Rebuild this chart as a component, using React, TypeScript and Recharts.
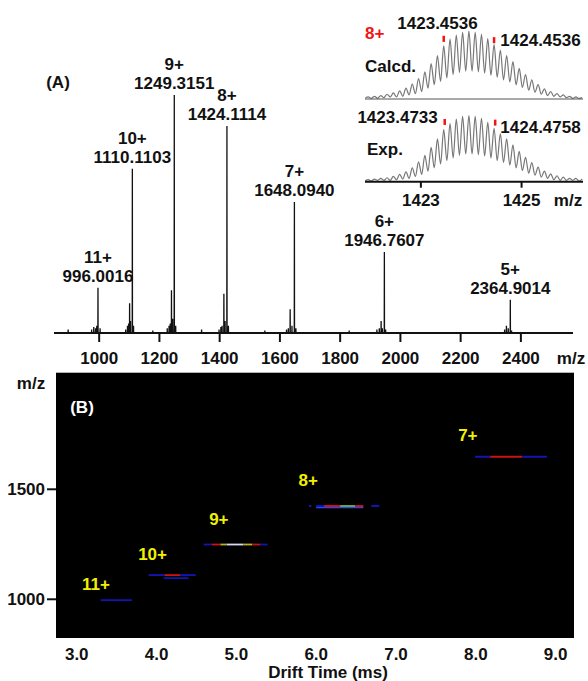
import {
  ComposedChart,
  LineChart,
  Line,
  XAxis,
  YAxis,
  LabelList,
  ReferenceLine,
  Scatter,
  CartesianGrid,
} from 'recharts'

const FONT = "'Liberation Sans', Arial, Helvetica, sans-serif"
const INK = '#111'

// (A) ESI-MS: labelled charge-state peaks
const chargeStates = ['11+', '10+', '9+', '8+', '7+', '6+', '5+']
const mainMz = [996.0016, 1110.1103, 1249.3151, 1424.1114, 1648.094, 1946.7607, 2364.9014]
const mainInt = [19, 69, 100, 87, 55, 34, 14]

// small satellite / noise sticks around the envelopes
const minorMz = [
  897, 975, 982, 988, 992, 1003, 1088, 1094, 1098, 1101, 1104, 1114, 1178, 1226, 1232, 1236,
  1240, 1244, 1254, 1340, 1398, 1404, 1408, 1414, 1418, 1429, 1550, 1622, 1628, 1634, 1640,
  1653, 1830, 1922, 1930, 1936, 1940, 1951, 2346, 2352, 2358, 2369,
]
const minorInt = [
  1.5, 1.5, 2.5, 2, 3, 2, 1.5, 3, 4, 12.5, 5, 3, 1, 2, 3, 4, 18, 6, 3, 1.5, 1.5, 2.5, 3, 16.5,
  5, 3, 1, 1.5, 2, 10, 3, 2, 1, 1.5, 2, 5, 2, 1.5, 1.5, 3, 2, 1,
]
const msTicks = [1000, 1200, 1400, 1600, 1800, 2000, 2200, 2400]

// inset: 8+ isotope pattern (peak tops and the valley just before each peak)
const isoMz = [
  1421.9536, 1422.0786, 1422.2036, 1422.3286, 1422.4536, 1422.5786, 1422.7036, 1422.8286,
  1422.9536, 1423.0786, 1423.2036, 1423.3286, 1423.4536, 1423.5786, 1423.7036, 1423.8286,
  1423.9536, 1424.0786, 1424.2036, 1424.3286, 1424.4536, 1424.5786, 1424.7036, 1424.8286,
  1424.9536, 1425.0786, 1425.2036, 1425.3286, 1425.4536, 1425.5786, 1425.7036, 1425.8286,
  1425.9536, 1426.0786, 1426.2036,
]
const calcPeaks = [
  3, 4, 5, 7, 9, 12, 16, 22, 30, 40, 52, 64, 78, 88, 94, 98, 100, 98, 95, 89, 80, 72, 64, 55,
  45, 36, 28, 21, 15, 11, 8, 6, 4, 3, 2,
]
const calcValleys = [
  1, 1, 1, 2, 3, 3, 4, 6, 8, 11, 16, 21, 26, 31, 36, 39, 41, 41, 40, 38, 35, 32, 28, 25, 21,
  17, 13, 10, 7, 5, 4, 3, 2, 1, 1,
]
const expPeaks = [
  3, 4, 5, 6, 8, 11, 15, 21, 30, 40, 52, 65, 79, 88, 95, 99, 100, 99, 96, 90, 81, 73, 65, 56,
  46, 37, 29, 22, 16, 12, 9, 7, 5, 5, 4,
]
const expValleys = [
  1, 1, 2, 2, 2, 3, 4, 5, 8, 11, 16, 21, 27, 32, 36, 40, 42, 42, 41, 39, 36, 32, 29, 25, 21,
  17, 13, 10, 7, 5, 3, 2, 2, 2, 1,
]

// (B) drift time vs m/z map: coloured segments
const BLUE = '#1414b4'
const RED = '#c81414'
const YEL = '#b4b428'
const PALE = '#d4dcf4'
const GRN = '#6ea03c'
const LBLUE = '#2848ff'
const segStart = [3.3, 3.9, 4.1, 4.3, 4.09, 4.59, 4.69, 4.8, 4.88, 5.09, 5.2, 5.3, 5.91, 6.0, 6.0, 6.1, 6.3, 6.49, 6.69, 7.99, 8.18, 8.58]
const segEnd = [3.69, 4.1, 4.3, 4.49, 4.4, 4.69, 4.8, 4.88, 5.09, 5.2, 5.3, 5.39, 5.94, 6.59, 6.1, 6.3, 6.49, 6.59, 6.79, 8.18, 8.58, 8.89]
const segMz = [996, 1110, 1110, 1110, 1096, 1249, 1249, 1249, 1249, 1249, 1249, 1249, 1424, 1418, 1424, 1424, 1424, 1424, 1424, 1648, 1648, 1648]
const segColor = [BLUE, BLUE, RED, BLUE, BLUE, BLUE, RED, YEL, PALE, YEL, RED, BLUE, BLUE, LBLUE, BLUE, RED, GRN, RED, BLUE, BLUE, RED, BLUE]

const mapLabels = ['11+', '10+', '9+', '8+', '7+']
const mapLabelT = [3.24, 3.95, 4.78, 5.9, 7.9]
const mapLabelMz = [1070, 1206, 1365, 1544, 1747]
const driftTicks = [3, 4, 5, 6, 7, 8, 9]

type Stick = { mz: number; int: number; charge?: string; label?: string }

const sticks: Stick[] = [
  ...mainMz.map((mz, i) => ({ mz, int: mainInt[i], charge: chargeStates[i], label: mz.toFixed(4) })),
  ...minorMz.map((mz, i) => ({ mz, int: minorInt[i] })),
].sort((a, b) => a.mz - b.mz)

// each stick is drawn baseline -> apex -> baseline
const spectrum: Stick[] = [{ mz: 850, int: 0 }]
sticks.forEach((s) => {
  spectrum.push({ mz: s.mz - 0.4, int: 0 }, s, { mz: s.mz + 0.4, int: 0 })
})
spectrum.push({ mz: 2573, int: 0 })

const isoRows = isoMz.flatMap((mz, i) => [
  { mz: mz - 0.0625, calc: calcValleys[i], exp: expValleys[i] },
  { mz, calc: calcPeaks[i], exp: expPeaks[i] },
])

const segments = segStart.map((t0, i) => ({
  color: segColor[i],
  data: [
    { t: t0, mz: segMz[i] },
    { t: segEnd[i], mz: segMz[i] },
  ],
}))

const labelPoints = mapLabels.map((charge, i) => ({ t: mapLabelT[i], mz: mapLabelMz[i], charge }))

const tickStyle = { fontSize: 17, fontWeight: 'bold', fill: INK, fontFamily: FONT }

function PeakLabel(props: any) {
  const { x, y, index, value } = props
  if (!value) return null
  const row = spectrum[index]
  return (
    <g fontFamily={FONT} fontWeight="bold" fontSize={17} fill={INK} textAnchor="middle">
      <text x={x} y={y - 25}>{value}</text>
      <text x={x} y={y - 6}>{row?.label}</text>
    </g>
  )
}

function SpectrumChart() {
  return (
    <ComposedChart width={588} height={370} data={spectrum} margin={{ top: 95, right: 15, bottom: 0, left: 54 }}>
      <XAxis
        dataKey="mz"
        type="number"
        domain={[850, 2573]}
        allowDataOverflow
        ticks={msTicks}
        interval={0}
        height={37}
        tickSize={9}
        tickMargin={10}
        tick={tickStyle}
        axisLine={{ stroke: INK, strokeWidth: 2 }}
        tickLine={{ stroke: INK, strokeWidth: 2 }}
      />
      <YAxis hide domain={[0, 100]} />
      <Line
        dataKey="int"
        type="linear"
        stroke={INK}
        strokeWidth={1.3}
        dot={false}
        isAnimationActive={false}
      >
        <LabelList dataKey="charge" content={PeakLabel} />
      </Line>
    </ComposedChart>
  )
}

function InsetCalc() {
  return (
    <LineChart width={588} height={105} data={isoRows} margin={{ top: 31, right: 5, bottom: 0, left: 365 }}>
      <XAxis
        dataKey="mz"
        type="number"
        domain={[1421.89, 1426.22]}
        allowDataOverflow
        ticks={[1423, 1425]}
        tick={false}
        tickSize={3}
        height={6}
        axisLine={{ stroke: '#555', strokeWidth: 1 }}
        tickLine={{ stroke: '#555' }}
      />
      <YAxis hide domain={[0, 100]} />
      <Line dataKey="calc" type="monotone" stroke="#777" strokeWidth={1.2} dot={false} isAnimationActive={false} />
      <ReferenceLine
        ifOverflow="visible"
        segment={[{ x: 1423.4536, y: 84 }, { x: 1423.4536, y: 93 }]}
        stroke="#f01414"
        strokeWidth={2.5}
      />
      <ReferenceLine
        ifOverflow="visible"
        segment={[{ x: 1424.4536, y: 82 }, { x: 1424.4536, y: 91 }]}
        stroke="#f01414"
        strokeWidth={2.5}
      />
    </LineChart>
  )
}

function InsetExp() {
  return (
    <LineChart width={588} height={215} data={isoRows} margin={{ top: 115.7, right: 5, bottom: 0, left: 365 }}>
      <XAxis
        dataKey="mz"
        type="number"
        domain={[1421.89, 1426.22]}
        allowDataOverflow
        ticks={[1423, 1425]}
        interval={0}
        height={33.3}
        tickSize={6}
        tickMargin={6}
        tick={tickStyle}
        axisLine={{ stroke: INK, strokeWidth: 2 }}
        tickLine={{ stroke: INK, strokeWidth: 2 }}
      />
      <YAxis hide domain={[0, 100]} />
      <Line dataKey="exp" type="monotone" stroke="#777" strokeWidth={1.2} dot={false} isAnimationActive={false} />
      <ReferenceLine
        ifOverflow="visible"
        segment={[{ x: 1423.4733, y: 86 }, { x: 1423.4733, y: 95 }]}
        stroke="#f01414"
        strokeWidth={2.5}
      />
      <ReferenceLine
        ifOverflow="visible"
        segment={[{ x: 1424.4758, y: 85 }, { x: 1424.4758, y: 94 }]}
        stroke="#f01414"
        strokeWidth={2.5}
      />
    </LineChart>
  )
}

function ChargeTag(props: any) {
  const { cx, cy, payload } = props
  return (
    <text x={cx} y={cy} dy={6} textAnchor="middle" fontFamily={FONT} fontWeight="bold" fontSize={17} fill="#f0f000">
      {payload.charge}
    </text>
  )
}

function MobilityMap() {
  return (
    <ComposedChart width={588} height={321} margin={{ top: 12.7, right: 14, bottom: 0, left: 0 }}>
      <CartesianGrid horizontal={false} vertical={false} fill="#000" fillOpacity={1} stroke="none" />
      <XAxis
        dataKey="t"
        type="number"
        domain={[2.74, 9.23]}
        allowDataOverflow
        ticks={driftTicks}
        interval={0}
        tickFormatter={(v: number) => v.toFixed(1)}
        height={43}
        tickSize={0}
        tickMargin={10}
        tick={tickStyle}
        axisLine={false}
        tickLine={false}
      />
      <YAxis
        type="number"
        domain={[824, 2030]}
        allowDataOverflow
        ticks={[1000, 1500]}
        interval={0}
        width={56}
        tickSize={9}
        tickMargin={2}
        tick={tickStyle}
        axisLine={false}
        tickLine={{ stroke: INK, strokeWidth: 2 }}
      />
      {segments.map((s, i) => (
        <Line
          key={i}
          data={s.data}
          dataKey="mz"
          type="linear"
          stroke={s.color}
          strokeWidth={i === 13 ? 2 : 1.8}
          dot={false}
          isAnimationActive={false}
        />
      ))}
      <Scatter data={labelPoints} dataKey="mz" shape={ChargeTag} isAnimationActive={false} />
    </ComposedChart>
  )
}

export default function App() {
  const bold = { fontFamily: FONT, fontWeight: 'bold', fontSize: 17 } as const
  return (
    <div style={{ position: 'absolute', left: 0, top: 0, width: 588, height: 681, background: '#fff', fontFamily: FONT }}>
      <div style={{ position: 'absolute', left: 0, top: 0 }}>
        <SpectrumChart />
      </div>
      <div style={{ position: 'absolute', left: 0, top: 0 }}>
        <InsetCalc />
      </div>
      <div style={{ position: 'absolute', left: 0, top: 0 }}>
        <InsetExp />
      </div>
      <div style={{ position: 'absolute', left: 0, top: 360 }}>
        <MobilityMap />
      </div>
      <svg
        width={588}
        height={681}
        style={{ position: 'absolute', left: 0, top: 0, pointerEvents: 'none' }}
      >
        <g {...bold} fill={INK}>
          <text x={58} y={88} textAnchor="middle">(A)</text>
          <text x={571} y={364} textAnchor="middle">m/z</text>
          <text x={437.5} y={28.5} textAnchor="middle">1423.4536</text>
          <text x={540.5} y={45.7} textAnchor="middle">1424.4536</text>
          <text x={365} y={71.7}>Calcd.</text>
          <text x={397.6} y={122.5} textAnchor="middle">1423.4733</text>
          <text x={540.5} y={133} textAnchor="middle">1424.4758</text>
          <text x={367} y={154.7}>Exp.</text>
          <text x={568} y={206} textAnchor="middle">m/z</text>
          <text x={31} y={389} textAnchor="middle">m/z</text>
          <text x={328} y={678} textAnchor="middle">Drift Time (ms)</text>
        </g>
        <text x={365} y={38.5} {...bold} fill="#f01414">8+</text>
        <text x={82} y={413} textAnchor="middle" {...bold} fill="#fff">(B)</text>
      </svg>
    </div>
  )
}
